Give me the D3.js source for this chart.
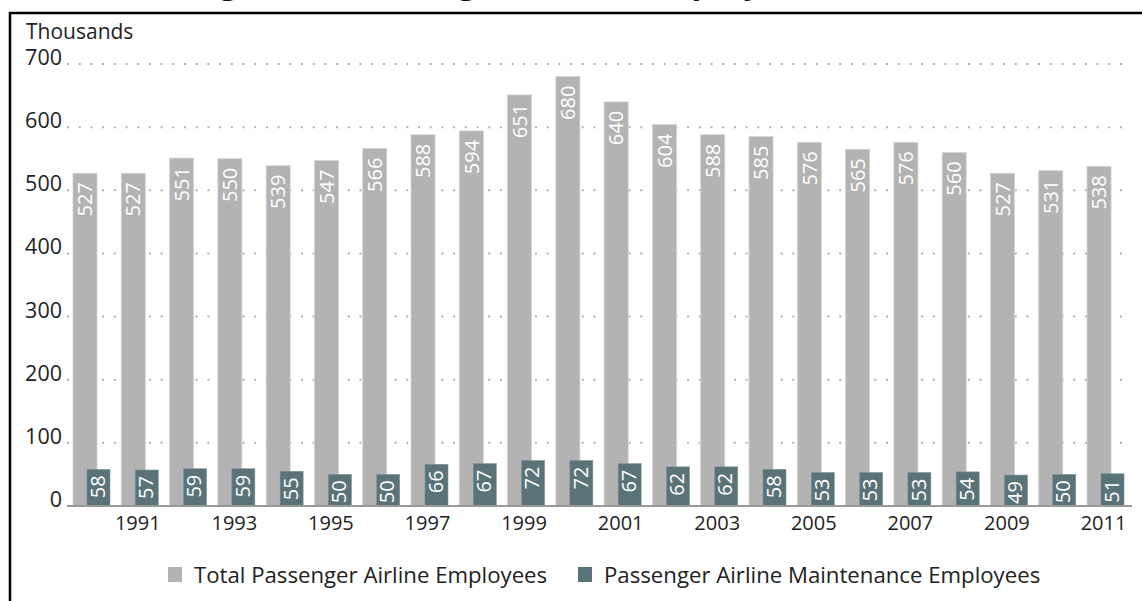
<!DOCTYPE html>
<html><head><meta charset="utf-8">
<script src="https://cdn.jsdelivr.net/npm/d3@7"></script>
<style>body{margin:0;background:#fff}svg{display:block}text{font-family:"Open Sans",sans-serif}</style>
</head><body>
<svg id="c" width="1142" height="601"></svg>
<script>
const years = [1990,1991,1992,1993,1994,1995,1996,1997,1998,1999,2000,2001,2002,2003,2004,2005,2006,2007,2008,2009,2010,2011];
const totalEmp = [527,527,551,550,539,547,566,588,594,651,680,640,604,588,585,576,565,576,560,527,531,538];
const maintEmp = [58,57,59,59,55,50,50,66,67,72,72,67,62,62,58,53,53,53,54,49,50,51];
const yTicks = [0,100,200,300,400,500,600,700];
const xTickYears = [1991,1993,1995,1997,1999,2001,2003,2005,2007,2009,2011];
const seriesNames = ["Total Passenger Airline Employees","Passenger Airline Maintenance Employees"];
const titleText = "Figure 1. Passenger Airline Employees, 1990\u20132011";

const GRAY = "#b3b3b3", TEAL = "#5a7378";
const svg = d3.select("#c");

// title (mostly cut off at top, only descenders visible)
const title = svg.append("text").attr("x",0).attr("y",-7)
  .attr("font-weight","bold").attr("font-size",26).attr("fill","#111").text(titleText);
{
  const n = title.node();
  const p2 = n.getStartPositionOfChar(2).x, p37 = n.getStartPositionOfChar(37).x;
  const fs = 26*(600/(p37-p2));
  title.attr("font-size",fs);
  const q2 = n.getStartPositionOfChar(2).x;
  title.attr("x", 219 - q2);
}

// frame
svg.append("rect").attr("x",10).attr("y",13).attr("width",1200).attr("height",700)
  .attr("fill","none").attr("stroke","#000").attr("stroke-width",2.5);

const x = d3.scaleBand().domain(years).range([67,1130]).paddingInner(0.234).paddingOuter(0.124);
const y = d3.scaleLinear().domain([0,700]).range([506,64]);
const bw = x.bandwidth();

// gridlines
svg.append("g").selectAll("line").data(yTicks.filter(d=>d>0)).join("line")
  .attr("x1",67).attr("x2",1130).attr("y1",d=>y(d)).attr("y2",d=>y(d))
  .attr("stroke","#b0b0b0").attr("stroke-width",2).attr("stroke-dasharray","2,9.7");

// y tick labels
svg.append("g").selectAll("text").data(yTicks).join("text")
  .attr("x",62).attr("y",d=>y(d)+1).attr("text-anchor","end")
  .attr("font-size",21.5).attr("fill","#222").text(d=>d);

svg.append("text").attr("x",26).attr("y",39).attr("font-size",21).attr("fill","#222").text("Thousands");

// bars
const gw = bw*0.65, tOff = bw*0.378, tw = bw*0.622;
svg.append("g").selectAll("rect").data(years).join("rect")
  .attr("x",(d)=>x(d)).attr("y",(d,i)=>y(totalEmp[i])).attr("width",gw)
  .attr("height",(d,i)=>y(0)-y(totalEmp[i])).attr("fill",GRAY).attr("stroke","#d4d4d4").attr("stroke-width",0.8);
svg.append("g").selectAll("rect").data(years).join("rect")
  .attr("x",(d)=>x(d)+tOff).attr("y",(d,i)=>y(maintEmp[i])).attr("width",tw)
  .attr("height",(d,i)=>y(0)-y(maintEmp[i])).attr("fill",TEAL).attr("stroke","#7d9296").attr("stroke-width",0.6);

// bar labels
svg.append("g").selectAll("text").data(years).join("text")
  .attr("transform",(d,i)=>`translate(${x(d)+gw/2},${y(totalEmp[i])+9}) rotate(-90)`)
  .attr("text-anchor","end").attr("dy","0.36em").attr("font-size",20).attr("fill","#fff")
  .text((d,i)=>totalEmp[i]);
svg.append("g").selectAll("text").data(years).join("text")
  .attr("transform",(d,i)=>`translate(${x(d)+tOff+tw/2-1},${y(maintEmp[i])+6}) rotate(-90)`)
  .attr("text-anchor","end").attr("dy","0.36em").attr("font-size",20).attr("fill","#fff")
  .text((d,i)=>maintEmp[i]);

// baseline
svg.append("line").attr("x1",67).attr("x2",1132).attr("y1",y(0)).attr("y2",y(0))
  .attr("stroke","#999").attr("stroke-width",2);

// x labels
svg.append("g").selectAll("text").data(xTickYears).join("text")
  .attr("x",d=>x(d)+bw/2-2).attr("y",530).attr("text-anchor","middle")
  .attr("font-size",20).attr("fill","#222").text(d=>d);

// legend
const leg = [{x:168,c:GRAY},{x:578,c:TEAL}];
leg.forEach((l,i)=>{
  svg.append("rect").attr("x",l.x).attr("y",567).attr("width",14).attr("height",15).attr("fill",l.c);
  svg.append("text").attr("x",l.x+26).attr("y",583).attr("font-size",22.2).attr("fill","#222").text(seriesNames[i]);
});
</script>
</body></html>
